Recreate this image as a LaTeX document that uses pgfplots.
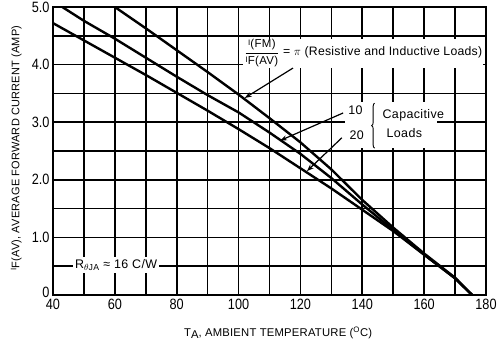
\documentclass[border=0pt]{standalone}
\usepackage{pgfplots}
\pgfplotsset{compat=1.18}
\usepackage{fontspec}
\setmainfont{Liberation Sans}[FakeStretch=0.85]
\newfontfamily\lblfont{Liberation Sans}[LetterSpace=2]
\newfontfamily\annfont{Liberation Sans}[LetterSpace=3]
\newcommand{\smallI}[1]{\raisebox{#1}{\fontsize{8}{9}\selectfont I}}
\usetikzlibrary{decorations.pathreplacing,arrows.meta}
\begin{document}
\begin{tikzpicture}
\useasboundingbox (-53bp,-44bp) rectangle (450bp,295bp);
\begin{axis}[
  at={(0,0)}, anchor=south west,
  scale only axis, width=433bp, height=288bp,
  xmin=40, xmax=180, ymin=0, ymax=5,
  xtick={40,60,...,180}, minor xtick={50,70,...,170},
  ytick={0,1,...,5}, minor ytick={0.5,1.5,...,4.5},
  yticklabels={\raisebox{6bp}{0},1.0,2.0,3.0,4.0,5.0},
  grid=both,
  major grid style={black, line width=1.7bp},
  minor grid style={black, line width=1.7bp},
  axis line style={line width=1.8bp},
  tick style={draw=none},
  tick label style={font=\fontsize{15}{17}\selectfont},
  xticklabel style={yshift=-1bp},
  /pgf/number format/assume math mode=true,
  xlabel={T\raisebox{-2bp}{A}, AMBIENT TEMPERATURE (\textsuperscript{O}C)},
  ylabel={\smallI{3bp}F(AV), AVERAGE FORWARD CURRENT (AMP)},
  xlabel style={font=\lblfont\fontsize{11.3}{13}\selectfont, at={(axis description cs:0.52,-0.13)}, anchor=center},
  ylabel style={font=\lblfont\fontsize{11}{13}\selectfont, at={(axis description cs:-0.085,0.51)}, anchor=center},
]
\addplot[black, line width=2.4bp] coordinates {
 (60,5.0) (70,4.63) (80,4.25) (90,3.87) (100,3.48) (110,3.07) (120,2.65)
 (130,2.18) (140,1.65) (150,1.17) (160,0.72) (170,0.3) (175.5,0)};
\addplot[black, line width=2.4bp] coordinates {
 (43,5.0) (50,4.76) (60,4.45) (70,4.12) (80,3.79) (90,3.47) (100,3.17)
 (110,2.82) (120,2.45) (130,2.03) (140,1.57) (150,1.13) (160,0.7) (170,0.29) (175.5,0)};
\addplot[black, line width=2.4bp] coordinates {
 (40,4.72) (50,4.42) (60,4.12) (70,3.82) (80,3.51) (90,3.2) (100,2.88)
 (110,2.55) (120,2.2) (130,1.85) (140,1.48) (150,1.11) (160,0.7) (170,0.29) (175.5,0)};
% annotation boxes
\node[fill=white, anchor=west, inner sep=1bp, font=\lblfont\fontsize{12.3}{14}\selectfont]
  at (axis cs:101.5,4.2) {$\displaystyle\frac{\mbox{\annfont\fontsize{11.5}{14}\selectfont\smallI{2bp}(FM)}}{\mbox{\annfont\fontsize{11.5}{14}\selectfont\smallI{2bp}F(AV)}}$ = $\pi$ (Resistive and Inductive Loads)};
\fill[white] (axis cs:134.5,2.55) rectangle (axis cs:164,3.35);
\node[font=\annfont\fontsize{12.5}{14}\selectfont] at (axis cs:137.8,3.21) {10};
\node[font=\annfont\fontsize{12.5}{14}\selectfont] at (axis cs:138.2,2.78) {20};
\draw[line width=0.9bp, decorate, decoration={brace, amplitude=3bp, mirror}] (axis cs:144,3.33) -- (axis cs:144,2.55);
\node[anchor=west, inner sep=0pt, font=\annfont\fontsize{12.5}{14}\selectfont] at (axis cs:146.5,3.12) {Capacitive};
\node[anchor=west, inner sep=0pt, font=\annfont\fontsize{12.5}{14}\selectfont] at (axis cs:147.8,2.81) {Loads};
\node[fill=white, inner sep=2bp, font=\annfont\fontsize{12.5}{14}\selectfont] at (axis cs:60.4,0.52) {R\textsubscript{$\theta$JA} ≈ 16 C/W};
% arrows
\draw[-{Stealth[length=7bp,width=5bp]}, line width=1.2bp] (axis cs:117.6,3.94) -- (axis cs:102,3.42);
\draw[-{Stealth[length=7bp,width=5bp]}, line width=1.2bp] (axis cs:133.8,3.16) -- (axis cs:113.4,2.68);
\draw[-{Stealth[length=7bp,width=5bp]}, line width=1.2bp] (axis cs:133.4,2.73) -- (axis cs:122.1,2.15);
\end{axis}
\end{tikzpicture}
\end{document}
